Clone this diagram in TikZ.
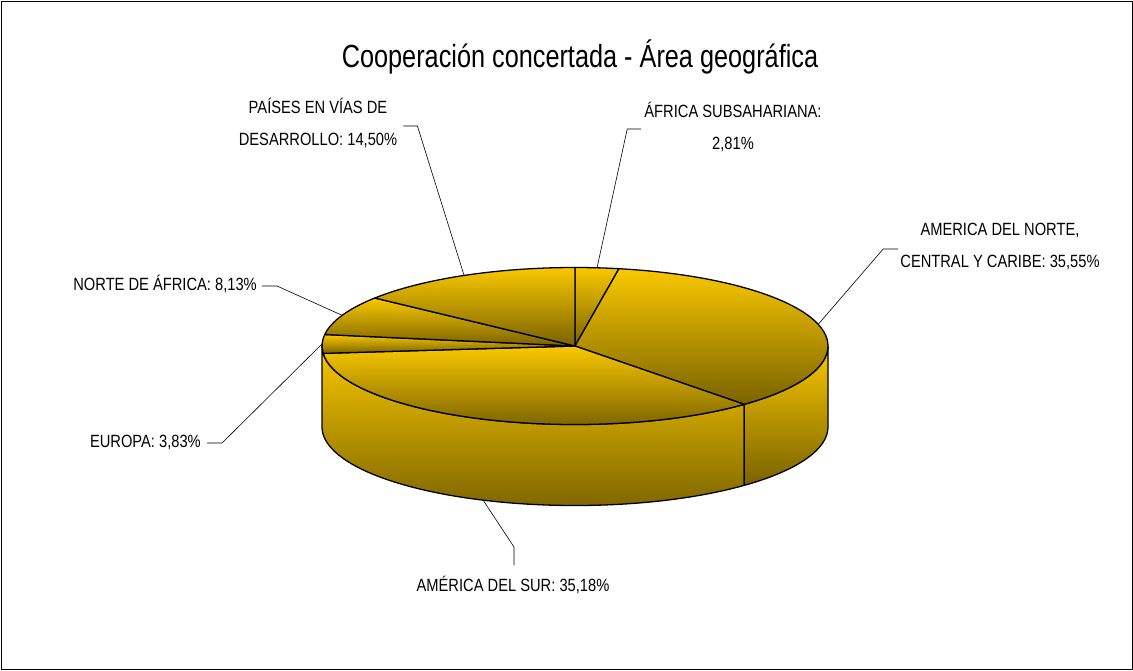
\documentclass[tikz,border=0pt]{standalone}
\usepackage{fontspec}
\setmainfont[FakeStretch=0.83]{Liberation Sans}
\newfontfamily\titlefont[FakeStretch=0.79]{Liberation Sans}
\usepackage{tikz}
\usetikzlibrary{positioning,calc}

\definecolor{pieTop}{RGB}{249,200,0}
\definecolor{pieBot}{RGB}{122,98,0}

\begin{document}
\begin{tikzpicture}[x=1pt,y=1pt,%
			slice/.style={draw=black,line width=1.3pt,line join=round,top color=pieTop,bottom color=pieBot},
			lbl/.style={inner sep=0pt,font=\fontsize{17.7}{32}\selectfont,align=center},
			leader/.style={draw=black,line width=0.6pt}]
			\useasboundingbox (0,0) rectangle (1133,-670);
			\draw[line width=1pt] (1,-1) rectangle (1132,-669);
			\node[font=\titlefont\fontsize{32}{36}\selectfont] (title) at (580,-57) {Cooperación concertada - Área geográfica};
			% pie
			\coordinate (c) at (575,-346);
			\path[slice] (c) ++(180:253pt and 78.5pt) arc[start angle=180,end angle=312,x radius=253pt,y radius=78.5pt]
				-- ++(0,-81) arc[start angle=312,end angle=180,x radius=253pt,y radius=78.5pt] -- cycle;
			\path[slice] (c) ++(312:253pt and 78.5pt) arc[start angle=312,end angle=360,x radius=253pt,y radius=78.5pt]
				-- ++(0,-81) arc[start angle=360,end angle=312,x radius=253pt,y radius=78.5pt] -- cycle;
			\foreach \a/\b in {80/90,-48/80,-174.6/-48,171.6/185.4,142.3/171.6,90/142.3}
				\path[slice] (c) -- ++(\a:253pt and 78.5pt) arc[start angle=\a,end angle=\b,x radius=253pt,y radius=78.5pt] -- cycle;
			\coordinate (pPaises) at ($(c)+(116:253pt and 78.5pt)$);
			\coordinate (pAfrSub) at ($(c)+(85:253pt and 78.5pt)$);
			\coordinate (pAmNorte) at ($(c)+(16:253pt and 78.5pt)$);
			\coordinate (pAmSur) at ($(c)+(0,-81)+(-111.3:253pt and 78.5pt)$);
			\coordinate (pEuropa) at ($(c)+(178.5:253pt and 78.5pt)$);
			\coordinate (pNorteAfr) at ($(c)+(157:253pt and 78.5pt)$);
			% labels
			\node[lbl] (lblPaises) at (318,-123) {PAÍSES EN VÍAS DE\\DESARROLLO: 14,50\%};
			\node[lbl] (lblAfrSub) at (733,-127) {ÁFRICA SUBSAHARIANA:\\2,81\%};
			\node[lbl] (lblAmNorte) at (1000,-246) {AMERICA DEL NORTE,\\CENTRAL Y CARIBE: 35,55\%};
			\node[lbl] (lblAmSur) at (513,-585) {AMÉRICA DEL SUR: 35,18\%};
			\node[lbl,anchor=east] (lblEuropa) at (201,-442) {EUROPA: 3,83\%};
			\node[lbl,anchor=east] (lblNorteAfr) at (257,-284) {NORTE DE ÁFRICA: 8,13\%};
			% leaders
			\draw[leader] (lblPaises.east) ++(6,-3) -- ++(14,0) -- (pPaises);
			\draw[leader] (lblAfrSub.west) ++(-3,-2) -- ++(-14,0) -- (pAfrSub);
			\draw[leader] (lblAmNorte.west) ++(-2,-3) -- ++(-15,0) -- (pAmNorte);
			\draw[leader] (lblAmSur.north) ++(1,11) -- ++(0,18) -- (pAmSur);
			\draw[leader] (lblEuropa.east) ++(6,-1) -- ++(15,0) -- (pEuropa);
			\draw[leader] (lblNorteAfr.east) ++(5,-2) -- ++(15,0) -- (pNorteAfr);
		\end{tikzpicture}
\end{document}
